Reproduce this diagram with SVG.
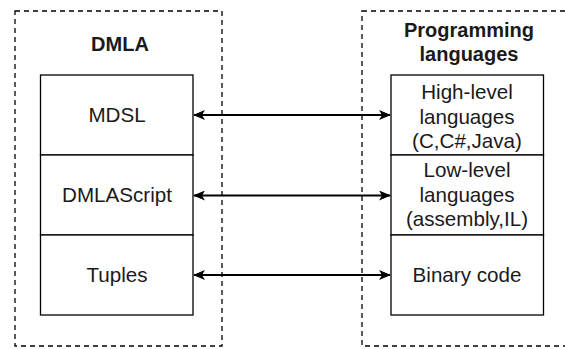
<svg xmlns="http://www.w3.org/2000/svg" width="565" height="349" viewBox="0 0 565 349">
<style>
.dash{fill:none;stroke:#000;stroke-width:1.3;stroke-dasharray:5 4}
.box{fill:#fff;stroke:#000;stroke-width:1.3}
.t{font-family:"Liberation Sans",Arial,sans-serif;font-size:20.6px;fill:#1a1a1a;text-anchor:middle}
.b{font-weight:bold;font-size:20px}
.c{stroke:#000;stroke-width:2;fill:none}
</style>
<defs>
<marker id="ah" viewBox="0 0 12 10" refX="11" refY="5" markerWidth="12" markerHeight="10" markerUnits="userSpaceOnUse" orient="auto-start-reverse">
<path d="M0,0 L12,5 L0,10 L3,5 Z" fill="#000"/>
</marker>
</defs>
<rect width="565" height="349" fill="#fff"/>
<g id="dmla">
<rect class="dash" x="15" y="11" width="207" height="335"/>
<text class="t b" x="120" y="51">DMLA</text>
</g>
<g id="proglang">
<rect class="dash" x="362" y="11" width="210" height="335"/>
<text class="t b" x="469" y="37">Programming</text>
<text class="t b" x="469" y="61">languages</text>
</g>
<g id="mdsl">
<rect class="box" x="40.5" y="75" width="152.5" height="80"/>
<text class="t" x="117" y="122">MDSL</text>
</g>
<g id="dmlascript">
<rect class="box" x="40.5" y="155" width="152.5" height="80"/>
<text class="t" x="117" y="202">DMLAScript</text>
</g>
<g id="tuples">
<rect class="box" x="40.5" y="235" width="152.5" height="80"/>
<text class="t" x="117" y="282">Tuples</text>
</g>
<g id="highlevel">
<rect class="box" x="391" y="75" width="152.5" height="80"/>
<text class="t" x="467" y="99">High-level</text>
<text class="t" x="467" y="123.5">languages</text>
<text class="t" x="467" y="148">(C,C#,Java)</text>
</g>
<g id="lowlevel">
<rect class="box" x="391" y="155" width="152.5" height="80"/>
<text class="t" x="467" y="177">Low-level</text>
<text class="t" x="467" y="201.5">languages</text>
<text class="t" x="467" y="226">(assembly,IL)</text>
</g>
<g id="binary">
<rect class="box" x="391" y="235" width="152.5" height="80"/>
<text class="t" x="467" y="282">Binary code</text>
</g>
<g id="connectors">
<path class="c" d="M194,115 H390" marker-start="url(#ah)" marker-end="url(#ah)"/>
<path class="c" d="M194,195.5 H390" marker-start="url(#ah)" marker-end="url(#ah)"/>
<path class="c" d="M194,275 H390" marker-start="url(#ah)" marker-end="url(#ah)"/>
</g>
</svg>
